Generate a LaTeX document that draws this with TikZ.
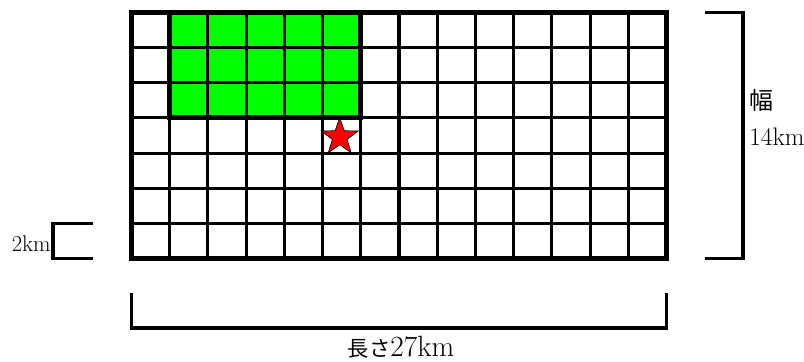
\documentclass[tikz,border=0pt]{standalone}
\usepackage{fontspec}
\newfontfamily\jpfont{Noto Sans CJK JP}
\usetikzlibrary{shapes.geometric,positioning}
\tikzset{
  cell line/.style={line width=2.3pt},
  frame/.style={line width=3.8pt},
  bracket/.style={line width=2.3pt},
  quake/.style={star, star points=5, star point ratio=2.5, minimum size=29pt,
    inner sep=0pt, fill=red, draw=black, line width=0.5pt},
  label text/.style={inner sep=0pt},
}
\def\cw{38.214}
\def\ch{35.143}

\begin{document}
\begin{tikzpicture}[x=0.75pt, y=-0.75pt]
  \useasboundingbox (0,0) rectangle (804,361);

  % Green block
  \fill[green] (131.5+\cw,12.5) rectangle (131.5+6*\cw,12.5+3*\ch);

  % Grid
  \foreach \i in {1,...,13}
    \draw[cell line] (131.5+\i*\cw,12.5) -- (131.5+\i*\cw,258.5);
  \foreach \j in {1,...,6}
    \draw[cell line] (131.5,12.5+\j*\ch) -- (666.5,12.5+\j*\ch);
  \draw[frame] (131.5+\cw,12.5) rectangle (131.5+6*\cw,12.5+3*\ch);
  \draw[frame] (131.5,12.5) rectangle (666.5,258.5);

  % Star
  \node[quake] (epicenter) at (339.7,137) {};

  % Width
  \draw[bracket] (705,12.5) -- (743,12.5) -- (743,258.5) -- (705,258.5);
  \node[label text, anchor=west] (width) at (749,100.5)
    {\jpfont\fontsize{18}{20}\selectfont 幅};
  \node[label text, below=12pt of width.south west, anchor=north west]
    (width km) {\fontsize{19}{22}\selectfont 14km};

  % Cell size
  \draw[bracket] (93,12.5+6*\ch) -- (53,12.5+6*\ch) -- (53,258.5) -- (93,258.5);
  \node[label text, anchor=east] (cell km) at (51,244)
    {\fontsize{17}{20}\selectfont 2km};

  % Length
  \draw[bracket] (131.5,293) -- (131.5,328) -- (666.5,328) -- (666.5,293);
  \node[label text] (length) at (401,347)
    {{\jpfont\fontsize{16}{20}\selectfont 長さ}\fontsize{22}{26}\selectfont 27km};
\end{tikzpicture}
\end{document}
